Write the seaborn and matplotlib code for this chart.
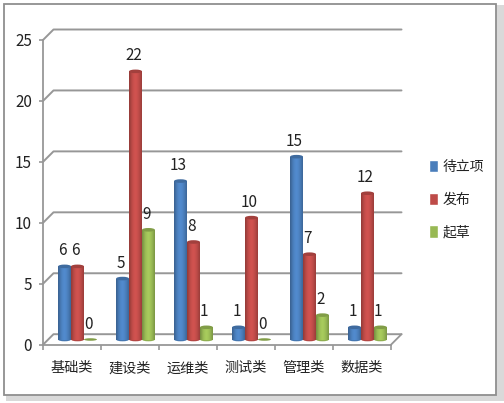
import numpy as np
import pandas as pd
import matplotlib
matplotlib.use("Agg")
import matplotlib.pyplot as plt
import seaborn as sns
from matplotlib.patches import Ellipse, Rectangle
from matplotlib.lines import Line2D
from matplotlib.colors import to_rgb

categories = ["基础类", "建设类", "运维类", "测试类", "管理类", "数据类"]
series_names = ["待立项", "发布", "起草"]
pending = [6, 5, 13, 1, 15, 1]
published = [6, 22, 8, 10, 7, 12]
draft = [0, 9, 1, 0, 2, 1]
colors = ["#4a7ebb", "#be4b48", "#98b954"]
y_ticks = [0, 5, 10, 15, 20, 25]

sns.set_theme(style="white")
plt.rcParams["font.family"] = ["Noto Sans CJK SC", "DejaVu Sans"]

W, H = 504, 403
fig = plt.figure(figsize=(W / 100, H / 100), dpi=100, facecolor="white")


def box(left, right, top, bottom):
    return [left / W, 1 - bottom / H, (right - left) / W, (bottom - top) / H]


def fig_px_line(xs, ys, **kw):
    fig.add_artist(Line2D([x / W for x in xs], [1 - y / H for y in ys], **kw))


# outer picture frame with soft shadow
fig.add_artist(Rectangle((6 / W, 1 - 401 / H), 498 / W, 396 / H, transform=fig.transFigure,
                         fc="#d9d9d9", ec="none", zorder=0.1))
fig.add_artist(Rectangle((3.5 / W, 1 - 395 / H), 492 / W, 391 / H, transform=fig.transFigure,
                         fc="white", ec="#8f8f8f", lw=1.3, zorder=0.2))

GRID = "#979797"
# front axes: scale, ticks and category labels
front = fig.add_axes(box(43, 391, 40, 344.7), facecolor="none", zorder=3)
front.set_xlim(0, len(categories))
front.set_ylim(0, 25)
for s in ["top", "right"]:
    front.spines[s].set_visible(False)
for s in ["left", "bottom"]:
    front.spines[s].set_color(GRID)
    front.spines[s].set_linewidth(1.3)
front.set_yticks(y_ticks)
front.set_yticklabels([str(v) for v in y_ticks], fontsize=11, color="#222222")
front.set_xticks(range(len(categories) + 1))
front.set_xticklabels([])
front.set_xticks(np.arange(len(categories)) + 0.5, minor=True)
front.set_xticklabels(categories, minor=True, fontsize=10.2, color="#222222")
front.tick_params(axis="y", which="major", left=True, length=3, width=1.2, color=GRID, pad=5)
front.tick_params(axis="x", which="major", bottom=True, length=3.5, width=1.2, color=GRID)
front.tick_params(axis="x", which="minor", bottom=False, length=0, pad=12)

# receding back wall gridlines
depth = 10.5
y_px = lambda v: 344.7 - v * (344.7 - 40) / 25
for v in y_ticks:
    y = y_px(v)
    fig_px_line([43, 43 + depth, 391 + depth], [y, y - depth, y - depth], color=GRID, lw=1.4, zorder=1)
fig_px_line([391, 391 + depth], [344.7, 344.7 - depth], color=GRID, lw=1.3, zorder=1)

# bars sit in the middle of the floor depth
df = pd.DataFrame({
    "category": np.tile(categories, 3),
    "series": np.repeat(series_names, len(categories)),
    "value": pending + published + draft,
})
ax = fig.add_axes(box(48.5, 396.5, 339.5 - 304.7, 339.5), facecolor="none", zorder=4)
sns.barplot(data=df, x="category", y="value", hue="series", hue_order=series_names,
            palette=colors, width=0.67, gap=0, saturation=1, ax=ax, legend=True)
ax.set_xlim(-0.5, 5.5)
ax.set_ylim(0, 25)

ell_h = 3.6 / 12.19
shade = np.array([0.8, 0.93, 1.02, 1.08, 1.1, 1.08, 1.02, 0.95, 0.84])
for color, cont in zip(colors, ax.containers):
    rgb = np.array(to_rgb(color))
    strip = np.clip(shade[:, None] * rgb, 0, 1)[None, :, :]
    dark = tuple(rgb * 0.85)
    labels = ax.bar_label(cont, padding=5, fontsize=11, color="#222222", zorder=6)
    for t in labels:
        t.xyann = (-1.5, t.xyann[1])
    for bar in cont:
        x, w, h = bar.get_x(), bar.get_width(), bar.get_height()
        bar.set_alpha(0)
        if h <= 0:
            ax.add_patch(Ellipse((x + w / 2, 0), w, ell_h * 0.7, fc=dark, ec="none", zorder=3, clip_on=False))
            continue
        ax.add_patch(Ellipse((x + w / 2, 0), w, ell_h, fc=tuple(rgb * 0.95), ec="none", zorder=3, clip_on=False))
        ax.imshow(strip, extent=(x, x + w, 0, h), aspect="auto", zorder=4, interpolation="bilinear")
        ax.add_patch(Ellipse((x + w / 2, h), w, ell_h, fc=dark, ec="none", zorder=5))
ax.set_xlim(-0.5, 5.5)
ax.set_ylim(0, 25)
ax.axis("off")

sns.move_legend(ax, "center left", bbox_to_anchor=(416 / W, 1 - 199.5 / H),
                bbox_transform=fig.transFigure, frameon=False, title=None, fontsize=10,
                labelspacing=1.35, handlelength=0.7, handleheight=1.0, handletextpad=0.3)
for t in ax.get_legend().get_texts():
    t.set_color("#222222")

fig.savefig("out.png", dpi=100)
